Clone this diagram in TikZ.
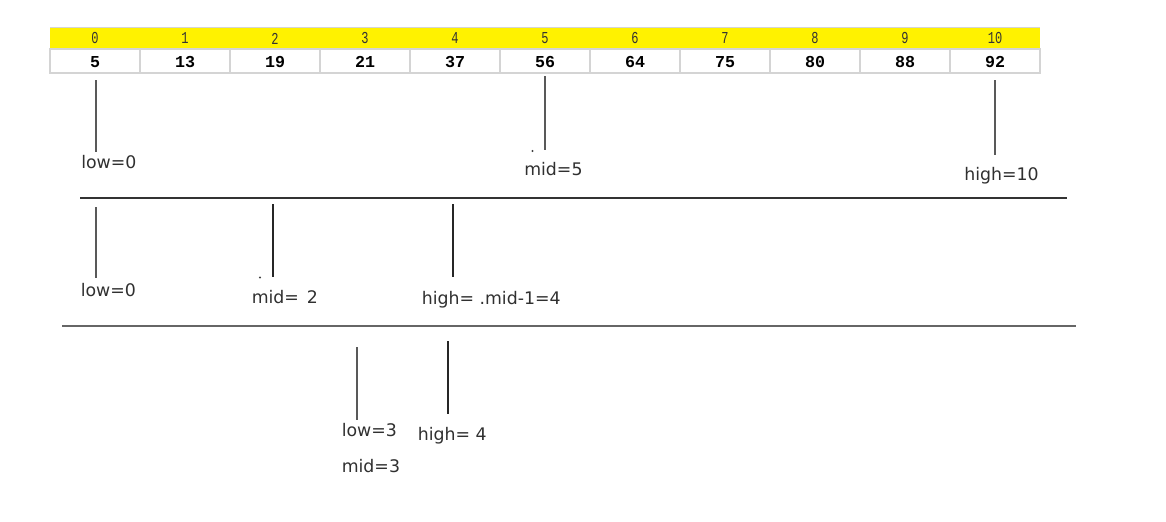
\documentclass[tikz,border=0pt]{standalone}
\usepackage{fontspec}
\setmainfont{DejaVu Sans}
\newfontfamily\idxfont{Liberation Mono}
\newfontfamily\valfont{Liberation Mono}
\definecolor{gridc}{HTML}{D4D4D4}
\definecolor{labc}{HTML}{303030}
\begin{document}
\begin{tikzpicture}[x=0.75pt,y=-0.75pt,
  lbl/.style={anchor=base west, inner sep=0pt, font=\fontsize{13}{15}\selectfont, text=labc},
  idx/.style={inner sep=0pt, font=\idxfont\fontsize{12.5}{14}\selectfont, text=black!80},
  val/.style={inner sep=0pt, font=\valfont\bfseries\fontsize{12.5}{14}\selectfont, text=black},
  thinline/.style={draw=black!65, line width=0.8pt},
  thickline/.style={draw=black!85, line width=1.5pt},
  sepline/.style={draw=black!80, line width=1.5pt},
  septhin/.style={draw=black!60, line width=1pt},
  spot/.style={fill=black!75}]
\useasboundingbox (0,0) rectangle (1166,521);
% table
\fill[yellow] (50,27) rectangle (1040,49);
\draw[gridc, line width=0.8pt] (50,49) rectangle (1040,73);
\draw[gridc, line width=0.6pt] (50,27) -- (1040,27);
\foreach \i in {1,...,10} \draw[gridc, line width=0.8pt] (50+90*\i,49) -- (50+90*\i,73);
\foreach \i in {0,...,10} \node[idx] (i\i) at (95+90*\i,38.5) {\scalebox{0.72}[1]{\i}};
\foreach \v [count=\k from 0] in {5,13,19,21,37,56,64,75,80,88,92}
  \node[val] (v\k) at (95+90*\k,62) {\v};
% section 1
\node[lbl] (lowA) at (81,168) {low=0};
\node[lbl] (midA) at (524,175) {mid=5};
\node[lbl] (highA) at (964,180.5) {high=10};
\coordinate (lowAt) at (96,80);  \coordinate (lowAb) at (96,152);
\coordinate (midAt) at (545,76); \coordinate (midAb) at (545,150);
\coordinate (highAt) at (995,80); \coordinate (highAb) at (995,155);
\draw[thinline] (lowAt) -- (lowAb);
\draw[thinline] (midAt) -- (midAb);
\draw[thinline] (highAt) -- (highAb);
\fill[spot] (532.5,151) circle (1.2);
\coordinate (sepAl) at (80,198); \coordinate (sepAr) at (1067,198);
\draw[sepline] (sepAl) -- (sepAr);
% section 2
\node[lbl] (lowB) at (80.5,296) {low=0};
\node[lbl] (midB) at (251.5,303) {mid=\hspace{0.45em}2};
\node[lbl] (highB) at (421.5,304) {high= .mid-1=4};
\coordinate (lowBt) at (96,207);  \coordinate (lowBb) at (96,278);
\coordinate (midBt) at (273,204); \coordinate (midBb) at (273,277);
\coordinate (highBt) at (453,204); \coordinate (highBb) at (453,277);
\draw[thinline] (lowBt) -- (lowBb);
\draw[thickline] (midBt) -- (midBb);
\draw[thickline] (highBt) -- (highBb);
\fill[spot] (260,277.5) circle (1.2);
\coordinate (sepBl) at (62,326); \coordinate (sepBr) at (1076,326);
\draw[septhin] (sepBl) -- (sepBr);
% section 3
\node[lbl] (lowC) at (341.5,436) {low=3};
\node[lbl] (midC) at (341.5,472) {mid=3};
\node[lbl] (highC) at (417.5,440) {high= 4};
\coordinate (lowCt) at (357,347); \coordinate (lowCb) at (357,420);
\coordinate (highCt) at (448,341); \coordinate (highCb) at (448,414);
\draw[thinline] (lowCt) -- (lowCb);
\draw[thickline] (highCt) -- (highCb);
\end{tikzpicture}
\end{document}
